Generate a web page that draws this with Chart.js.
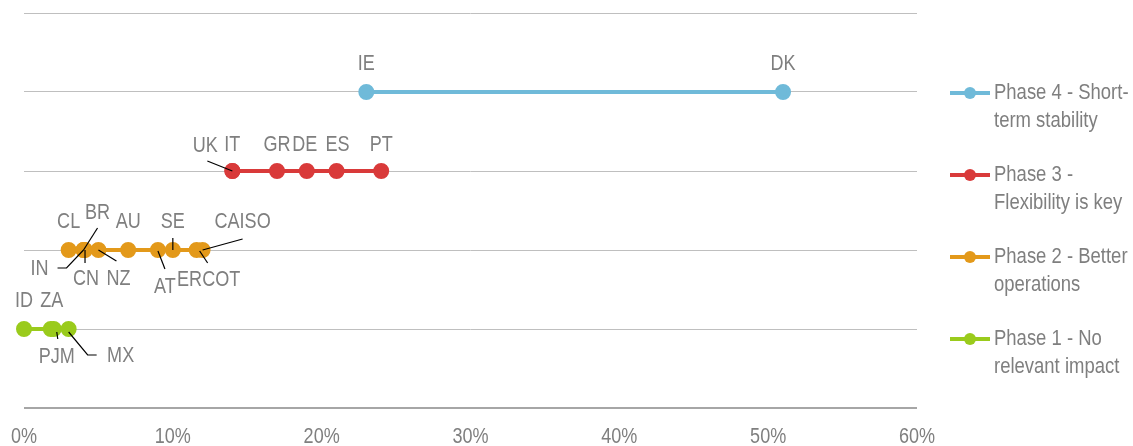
<!DOCTYPE html>
<html>
<head>
<meta charset="utf-8">
<script src="https://cdn.jsdelivr.net/npm/chart.js@4.4.1/dist/chart.umd.min.js"></script>
<style>
  html, body { margin: 0; padding: 0; background: #fff; }
  #wrap { width: 1133px; height: 446px; }
</style>
</head>
<body>
<div id="wrap"><canvas id="chart"></canvas></div>
<script>
// share values (% of annual generation)
const phase4Countries = ['IE', 'DK'];
const phase4Shares = [23, 51];
const phase3Countries = ['UK', 'IT', 'GR', 'DE', 'ES', 'PT'];
const phase3Shares = [14, 14, 17, 19, 21, 24];
const phase2Countries = ['CL', 'IN', 'BR', 'CN', 'NZ', 'AU', 'AT', 'SE', 'ERCOT', 'CAISO'];
const phase2Shares = [3, 4, 4, 4.1, 5, 7, 9, 10, 11.6, 12];
const phase1Countries = ['ID', 'ZA', 'PJM', 'MX'];
const phase1Shares = [0, 1.8, 2, 3];

const phaseNames = [
  ['Phase 4 - Short-', 'term stability'],
  ['Phase 3 -', 'Flexibility is key'],
  ['Phase 2 - Better', 'operations'],
  ['Phase 1 - No', 'relevant impact'],
];
const phaseRows = [4, 3, 2, 1];
const xTicks = [0, 10, 20, 30, 40, 50, 60];

const colors = ['#6fbad9', '#d93a3a', '#e3991a', '#9acb1c'];
const FONT = '"Liberation Sans", Arial, sans-serif';
const GREY = '#7f7f7f';
const SQUEEZE = 0.82; // no narrow font installed, so squeeze Liberation Sans

// label placement: [dx, dy] of text centre, and leader polyline (pixels, relative to the point)
const labelPlace = {
  IE: [0, -28], DK: [0, -28],
  UK: [-27, -25, [[-25, -10], [0, 0]]],
  IT: [0, -26], GR: [0, -26], DE: [-2, -26], ES: [1, -26], PT: [0, -26],
  CL: [0, -28],
  IN: [-44, 19, [[-26, 18], [-17, 18], [0, 0]]],
  BR: [14, -37, [[14, -22], [0, 0]]],
  CN: [1, 29, [[0, 13], [0, 0]]],
  NZ: [20, 29, [[18, 11], [0, 0]]],
  AU: [0, -28],
  AT: [7, 37, [[7, 19], [0, 1]]],
  SE: [0, -28, [[0, -12], [0, 0]]],
  ERCOT: [12, 30, [[11, 13], [3, 1]]],
  CAISO: [40, -28, [[40, -11], [0, 0]]],
  ID: [0, -28], ZA: [1, -28],
  PJM: [3, 28, [[4, 10], [3, 3]]],
  MX: [52, 27, [[28, 26], [19, 26], [0, 3]]],
};

const phaseCountries = [phase4Countries, phase3Countries, phase2Countries, phase1Countries];
const phaseShares = [phase4Shares, phase3Shares, phase2Shares, phase1Shares];

const datasets = phaseShares.map((shares, i) => ({
  label: phaseNames[i].join(' '),
  data: shares.map((s, j) => ({ x: s, y: phaseRows[i], name: phaseCountries[i][j] })),
  borderColor: colors[i],
  backgroundColor: colors[i],
  borderWidth: 4,
  pointRadius: 6,
  pointHoverRadius: 6,
  clip: false,
}));

function narrowText(ctx, text, x, y, squeeze) {
  ctx.save();
  ctx.translate(x, y);
  ctx.scale(squeeze || SQUEEZE, 1);
  ctx.fillText(text, 0, 0);
  ctx.restore();
}

const pointLabels = {
  id: 'pointLabels',
  afterDatasetsDraw(chart) {
    const ctx = chart.ctx;
    ctx.save();
    ctx.font = '22px ' + FONT;
    ctx.textAlign = 'center';
    ctx.textBaseline = 'middle';
    chart.data.datasets.forEach((ds, i) => {
      const meta = chart.getDatasetMeta(i);
      meta.data.forEach((el, j) => {
        const name = ds.data[j].name;
        const p = labelPlace[name];
        if (p[2]) {
          ctx.strokeStyle = '#000';
          ctx.lineWidth = 1.2;
          ctx.beginPath();
          p[2].forEach((pt, k) => {
            if (k === 0) ctx.moveTo(el.x + pt[0], el.y + pt[1]);
            else ctx.lineTo(el.x + pt[0], el.y + pt[1]);
          });
          ctx.stroke();
        }
        ctx.fillStyle = GREY;
        narrowText(ctx, name, el.x + p[0], el.y + p[1]);
      });
    });
    // x tick labels, placed by the x scale
    const xs = chart.scales.x;
    xTicks.forEach(v => narrowText(ctx, v + '%', xs.getPixelForValue(v), xs.top + 29));
    ctx.restore();
  },
};

const sideLegend = {
  id: 'sideLegend',
  afterDraw(chart) {
    const ctx = chart.ctx;
    const x0 = chart.chartArea.right + 33;
    ctx.save();
    ctx.font = '22px ' + FONT;
    ctx.textBaseline = 'middle';
    ctx.textAlign = 'left';
    phaseNames.forEach((lines, i) => {
      const y = 93 + i * 82;
      ctx.strokeStyle = colors[i];
      ctx.lineWidth = 4;
      ctx.beginPath();
      ctx.moveTo(x0, y);
      ctx.lineTo(x0 + 40, y);
      ctx.stroke();
      ctx.fillStyle = colors[i];
      ctx.beginPath();
      ctx.arc(x0 + 20, y, 6, 0, Math.PI * 2);
      ctx.fill();
      ctx.fillStyle = GREY;
      lines.forEach((t, k) => narrowText(ctx, t, x0 + 44, y + k * 28, 0.84));
    });
    ctx.restore();
  },
};

new Chart(document.getElementById('chart'), {
  type: 'line',
  data: { datasets },
  options: {
    responsive: true,
    maintainAspectRatio: false,
    animation: false,
    layout: { padding: { left: 24, right: 216, top: 13, bottom: 0 } },
    plugins: {
      legend: { display: false },
      tooltip: { enabled: false },
    },
    scales: {
      x: {
        type: 'linear',
        min: 0,
        max: 60,
        afterBuildTicks: (axis) => { axis.ticks = xTicks.map(v => ({ value: v })); },
        afterFit: (axis) => { axis.height = 38; axis.paddingLeft = 0; axis.paddingRight = 0; },
        grid: { display: false, drawTicks: false },
        border: { display: false },
        ticks: { display: false },
      },
      y: {
        type: 'linear',
        min: 0,
        max: 5,
        afterFit: (axis) => { axis.width = 0; },
        ticks: { display: false, stepSize: 1 },
        grid: {
          drawTicks: false,
          color: (c) => (c.tick.value === 0 ? '#a6a6a6' : '#bfbfbf'),
          lineWidth: (c) => (c.tick.value === 0 ? 2 : 1),
        },
        border: { display: false },
      },
    },
  },
  plugins: [pointLabels, sideLegend],
});
</script>
</body>
</html>
